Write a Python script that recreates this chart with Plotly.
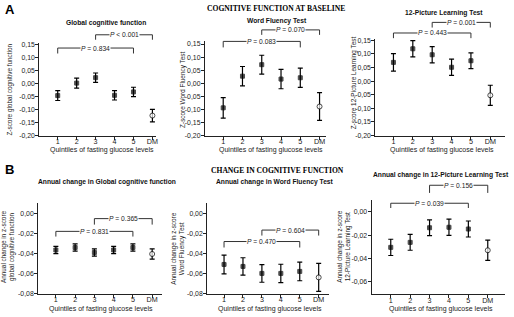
import plotly.graph_objects as go

W, H = 514, 317

categories = ["1", "2", "3", "4", "5", "DM"]

# Panel A: cognitive function at baseline (z-scores)
a1_mean = [-0.046, 0.002, 0.023, -0.045, -0.032, -0.123]
a1_err = [0.019, 0.019, 0.018, 0.018, 0.018, 0.024]
a2_mean = [-0.094, 0.027, 0.071, 0.016, 0.021, -0.089]
a2_err = [0.039, 0.037, 0.036, 0.037, 0.037, 0.053]
a3_mean = [0.069, 0.119, 0.097, 0.051, 0.075, -0.052]
a3_err = [0.032, 0.030, 0.030, 0.030, 0.029, 0.037]

# Panel B: annual change in z-score
b1_mean = [-0.0365, -0.0340, -0.0390, -0.0365, -0.0340, -0.0405]
b1_err = [0.0036, 0.0036, 0.0036, 0.0036, 0.0036, 0.0051]
b2_mean = [-0.051, -0.053, -0.060, -0.060, -0.058, -0.064]
b2_err = [0.0094, 0.0087, 0.0089, 0.0092, 0.0094, 0.0140]
b3_mean = [-0.0305, -0.0262, -0.0136, -0.0132, -0.0147, -0.0330]
b3_err = [0.0070, 0.0068, 0.0068, 0.0070, 0.0069, 0.0088]

# tick labels
a_tickvals = [0.15, 0.10, 0.05, 0.00, -0.05, -0.10, -0.15, -0.20]
a_ticktext = ["0,15", "0,10", "0,05", "0,00", "-0,05", "-0,10", "-0,15", "-0,20"]
b_tickvals = [0.00, -0.02, -0.04, -0.06, -0.08]
b_ticktext = ["0,00", "-0,02", "-0,04", "-0,06", "-0,08"]

# significance brackets: (from, to, top value, foot value, operator, p)
a1_brackets = [("1", "5", 0.137, 0.116, "=", "0.834"), ("3", "DM", 0.188, 0.169, "<", "0.001")]
a2_brackets = [("1", "5", 0.160, 0.137, "=", "0.083"), ("3", "DM", 0.204, 0.185, "=", "0.070")]
a3_brackets = [("1", "5", 0.177, 0.158, "=", "0.443"), ("3", "DM", 0.216, 0.197, "=", "0.001")]
b1_brackets = [("1", "5", -0.0178, -0.0230, "=", "0.831"), ("3", "DM", -0.0050, -0.0110, "=", "0.365")]
b2_brackets = [("1", "5", -0.0280, -0.0340, "=", "0.470"), ("3", "DM", -0.0165, -0.0220, "=", "0.604")]
b3_brackets = [("1", "5", 0.0075, 0.0034, "=", "0.039"), ("3", "DM", 0.0230, 0.0164, "=", "0.156")]

SANS = "Liberation Sans, Arial, sans-serif"
SERIF = "Liberation Serif, Times New Roman, serif"

panels = [
    dict(mean=a1_mean, err=a1_err, box=(39.5, 157, 41.5, 135.7), xr=[-0.97, 5.21], yr=[-0.20, 0.157],
         tv=a_tickvals, tt=a_ticktext, br=a1_brackets,
         title="Global cognitive function", tpos=(106, 21),
         ytitle="Z-score global cognitive function", ypos=(10, 89),
         xtpos=(102, 150)),
    dict(mean=a2_mean, err=a2_err, box=(205.7, 327, 39.5, 135.7), xr=[-0.95, 5.32], yr=[-0.20, 0.162],
         tv=a_tickvals, tt=a_ticktext, br=a2_brackets,
         title="Word Fluency Test", tpos=(278, 19),
         ytitle="Z-score Word Fluency Test", ypos=(183, 89),
         xtpos=(272, 150)),
    dict(mean=a3_mean, err=a3_err, box=(376.7, 507, 37.3, 135.7), xr=[-0.94, 5.76], yr=[-0.20, 0.156],
         tv=a_tickvals, tt=a_ticktext, br=a3_brackets,
         title="12-Picture Learning Test", tpos=(446, 11),
         ytitle="Z-score 12-Picture Learning Test", ypos=(355, 82),
         xtpos=(444, 150)),
    dict(mean=b1_mean, err=b1_err, box=(38.3, 163, 204, 296.5), xr=[-0.92, 5.53], yr=[-0.0805, 0.0109],
         tv=b_tickvals, tt=b_ticktext, br=b1_brackets,
         title="Annual change in Global cognitive function", tpos=(107, 183),
         ytitle="Annual change in z-score<br>global cognitive function", ypos=(8, 248),
         xtpos=(101, 311.5)),
    dict(mean=b2_mean, err=b2_err, box=(208, 330, 204, 296.5), xr=[-0.89, 5.53], yr=[-0.0805, 0.0109],
         tv=b_tickvals, tt=b_ticktext, br=b2_brackets,
         title="Annual change in Word Fluency Test", tpos=(276, 183),
         ytitle="Annual change in z-score<br>Word Fluency Test", ypos=(178.5, 250),
         xtpos=(271, 311.5)),
    dict(mean=b3_mean, err=b3_err, box=(373, 507, 200.7, 296.7), xr=[-0.99, 5.89], yr=[-0.0707, 0.0107],
         tv=b_tickvals[:4], tt=b_ticktext[:4], br=b3_brackets,
         title="Annual change in 12-Picture Learning Test", tpos=(443, 176),
         ytitle="Annual change in z-score<br>12-Picture Learning Test", ypos=(345, 248),
         xtpos=(443, 311.5)),
]


def px(x):
    return x / W


def py(y):
    return 1 - y / H


fig = go.Figure()
layout = dict(width=W, height=H, autosize=False, margin=dict(l=0, r=0, t=0, b=0),
              paper_bgcolor="white", plot_bgcolor="white", showlegend=False,
              font=dict(family=SANS, size=7, color="#222"))
shapes = []
annotations = []

for i, p in enumerate(panels, start=1):
    sx = "" if i == 1 else str(i)
    xa, ya = "x" + sx, "y" + sx
    l, r, t, b = p["box"]
    layout["xaxis" + sx] = dict(domain=[px(l), px(r)], anchor=ya, type="category",
                                categoryorder="array", categoryarray=categories,
                                range=p["xr"], showline=True, linecolor="#222", linewidth=1,
                                ticks="outside", ticklen=3, tickwidth=1, tickcolor="#222",
                                ticklabelstandoff=-4,
                                showgrid=False, zeroline=False,
                                tickfont=dict(size=7.2, family=SANS, color="#222"))
    layout["yaxis" + sx] = dict(domain=[py(b), py(t)], anchor=xa, range=p["yr"],
                                tickvals=p["tv"], ticktext=p["tt"],
                                showline=True, linecolor="#222", linewidth=1,
                                ticks="outside", ticklen=3, tickwidth=1, tickcolor="#222",
                                ticklabelstandoff=-1,
                                showgrid=False, zeroline=False,
                                tickfont=dict(size=6.9, family=SANS, color="#222"))

    symbols = ["circle" if c == "DM" else "square" for c in categories]
    fills = ["white" if c == "DM" else "black" for c in categories]
    sizes = [5 if c == "DM" else 4 for c in categories]
    fig.add_trace(go.Scatter(
        x=categories, y=p["mean"], mode="markers", xaxis=xa, yaxis=ya,
        marker=dict(symbol=symbols, color=fills, size=sizes, line=dict(color="black", width=1)),
        error_y=dict(type="data", array=p["err"], visible=True, color="black",
                     thickness=1.2, width=2.5),
        hoverinfo="skip", cliponaxis=False))

    lo, hi = p["yr"]

    def dom(v):
        return (v - lo) / (hi - lo)

    for (c0, c1, top, foot, op, pv) in p["br"]:
        i0, i1 = categories.index(c0), categories.index(c1)
        path = "M {a},{f} L {a},{t} L {b},{t} L {b},{f}".format(a=i0, b=i1, t=dom(top), f=dom(foot))
        shapes.append(dict(type="path", xref=xa, yref=ya + " domain", path=path,
                           line=dict(color="#333", width=1)))
        annotations.append(dict(x=(i0 + i1) / 2, y=dom(top), xref=xa, yref=ya + " domain",
                                text="<i>P</i> {} {}".format(op, pv), showarrow=False,
                                bgcolor="white", borderpad=0, xanchor="center", yanchor="middle",
                                font=dict(size=6.7, family=SANS, color="#222")))

    annotations.append(dict(x=px(p["tpos"][0]), y=py(p["tpos"][1]), xref="paper", yref="paper",
                            text="<b>" + p["title"] + "</b>", showarrow=False,
                            xanchor="center", yanchor="middle",
                            font=dict(size=6.7, family=SANS, color="#111")))
    annotations.append(dict(x=px(p["ypos"][0]), y=py(p["ypos"][1]), xref="paper", yref="paper",
                            text=p["ytitle"], showarrow=False, textangle=-90,
                            xanchor="center", yanchor="middle",
                            font=dict(size=6.4, family=SANS, color="#222")))
    annotations.append(dict(x=px(p["xtpos"][0]), y=py(p["xtpos"][1]), xref="paper", yref="paper",
                            text="Quintiles of fasting glucose levels", showarrow=False,
                            xanchor="center", yanchor="middle",
                            font=dict(size=7.0, family=SANS, color="#222")))

# section headers
annotations.append(dict(x=px(3), y=py(8), xref="paper", yref="paper", text="<b>A</b>",
                        showarrow=False, xanchor="left", yanchor="middle",
                        font=dict(size=13, family=SANS, color="black")))
annotations.append(dict(x=px(3), y=py(170), xref="paper", yref="paper", text="<b>B</b>",
                        showarrow=False, xanchor="left", yanchor="middle",
                        font=dict(size=13, family=SANS, color="black")))
annotations.append(dict(x=px(277), y=py(7), xref="paper", yref="paper",
                        text="<b>COGNITIVE FUNCTION AT BASELINE</b>",
                        showarrow=False, xanchor="center", yanchor="middle",
                        font=dict(size=7.6, family=SERIF, color="black")))
annotations.append(dict(x=px(279), y=py(171), xref="paper", yref="paper",
                        text="<b>CHANGE IN COGNITIVE FUNCTION</b>",
                        showarrow=False, xanchor="center", yanchor="middle",
                        font=dict(size=7.6, family=SERIF, color="black")))

layout["shapes"] = shapes
layout["annotations"] = annotations
fig.update_layout(**layout)
fig.write_html("out.html", config={"displayModeBar": False, "staticPlot": True},
               post_script="document.body.style.margin='0';document.body.style.padding='0';")
